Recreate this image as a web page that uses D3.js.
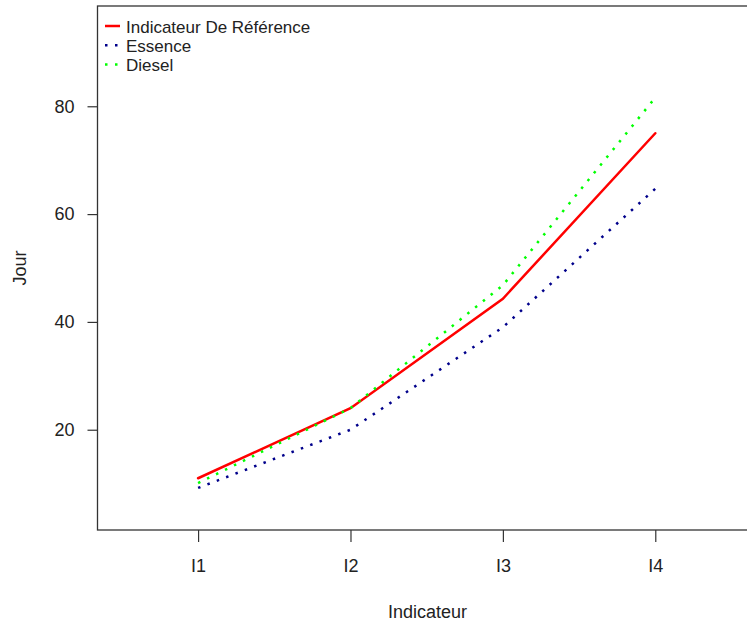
<!DOCTYPE html>
<html><head><meta charset="utf-8">
<script src="https://cdn.jsdelivr.net/npm/d3@7"></script>
<style>body{margin:0;background:#fff}svg{display:block}text{font-family:"Liberation Sans",Arial,sans-serif;fill:#222}</style>
</head><body>
<svg id="c" width="747" height="626"></svg>
<script>
const categories = ["I1","I2","I3","I4"];
const reference = [11, 24, 44.3, 75];
const essence = [9.2, 20, 39, 64.7];
const diesel = [10.1, 24, 46.8, 81.6];
const yTicks = [20, 40, 60, 80];
const seriesNames = ["Indicateur De Référence","Essence","Diesel"];

const svg = d3.select("#c");
const L = 97.5, T = 6, B = 530;
const x = d3.scaleLinear().domain([0.34, 4.66]).range([L, L + 4.32*152.4]);
const y = d3.scaleLinear().domain([1.4, 98.6]).range([B, T]);

const series = [
  {name: seriesNames[0], values: reference, color: "#FF0000", dash: null, w: 2.5},
  {name: seriesNames[1], values: essence, color: "#00008B", dash: "2.5,7.5", w: 2.5},
  {name: seriesNames[2], values: diesel, color: "#00FF00", dash: "2.5,7.5", w: 2.5}
];
const line = d3.line().x((d,i)=>x(i+1)).y(d=>y(d));
series.forEach(s=>{
  svg.append("path").attr("d", line(s.values)).attr("fill","none")
    .attr("stroke", s.color).attr("stroke-width", s.w)
    .attr("stroke-dasharray", s.dash).attr("stroke-linecap", s.dash ? "butt" : "round");
});

// box
svg.append("rect").attr("x", L).attr("y", T).attr("width", 800).attr("height", B-T)
  .attr("fill","none").attr("stroke","#333").attr("stroke-width",1.3);

const font = "'Liberation Sans',Arial,sans-serif";
// x axis
const xa = svg.append("g").attr("transform",`translate(0,${B})`)
  .call(d3.axisBottom(x).tickValues([1,2,3,4]).tickFormat((d)=>categories[d-1]).tickSize(12).tickPadding(17));
xa.select(".domain").remove();
xa.selectAll("line").attr("stroke","#333").attr("stroke-width",1.2);
xa.selectAll("text").attr("font-size","18px").attr("fill","#222").style("font-family",font);

// y axis
const ya = svg.append("g").attr("transform",`translate(${L},0)`)
  .call(d3.axisLeft(y).tickValues(yTicks).tickSize(10).tickPadding(13));
ya.select(".domain").remove();
ya.selectAll("line").attr("stroke","#333").attr("stroke-width",1.2);
ya.selectAll("text").attr("font-size","18px").attr("fill","#222").style("font-family",font);

svg.append("text").attr("x", 427.5).attr("y", 618).attr("text-anchor","middle").attr("font-size","18px").text("Indicateur");
svg.append("text").attr("transform","translate(26,268) rotate(-90)").attr("text-anchor","middle").attr("font-size","18px").text("Jour");

// legend
series.forEach((s,i)=>{
  const yy = 26 + i*19.2;
  svg.append("line").attr("x1",105).attr("x2",120).attr("y1",yy).attr("y2",yy)
    .attr("stroke", s.color).attr("stroke-width", 2.5).attr("stroke-dasharray", s.dash ? "2.5,7.5" : null);
  svg.append("text").attr("x",126).attr("y",yy+6.5).attr("font-size","17px").text(s.name);
});
</script>
</body></html>
